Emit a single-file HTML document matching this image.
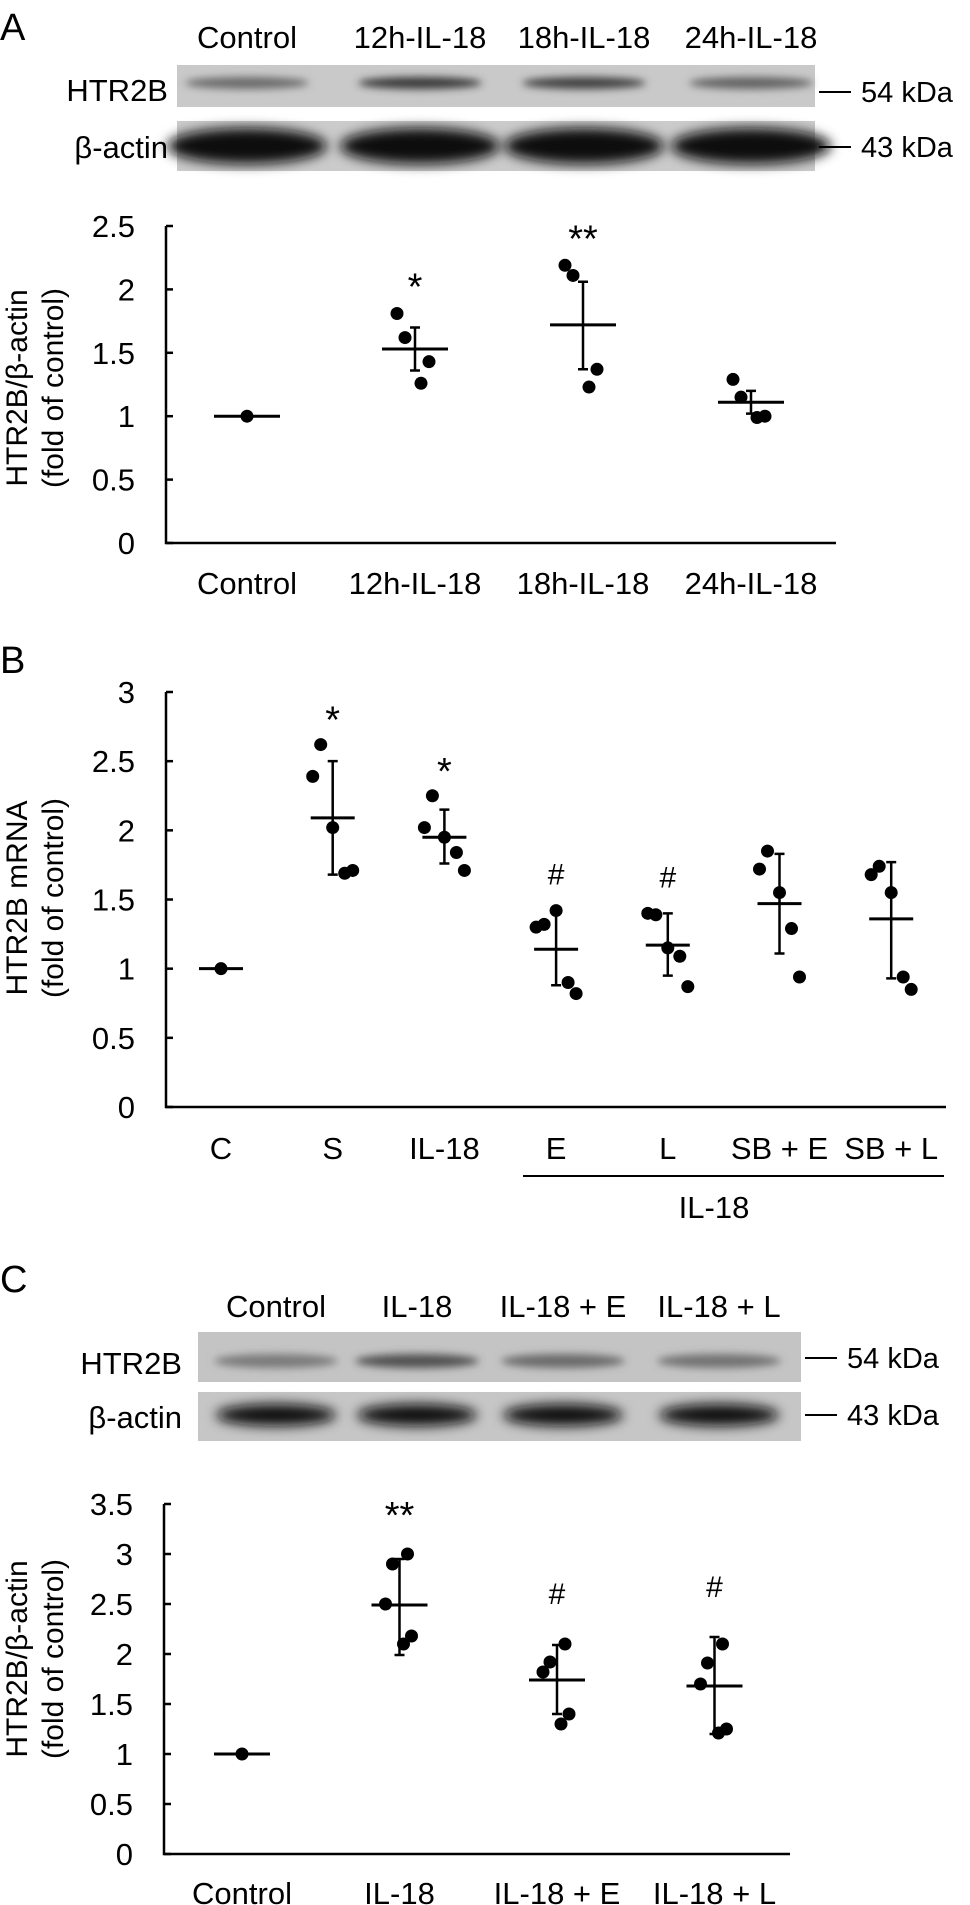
<!DOCTYPE html>
<html><head><meta charset="utf-8"><style>
html,body{margin:0;padding:0;background:#fff;}
svg{display:block;font-family:"Liberation Sans",Arial,sans-serif;}
</style></head><body>
<svg id="fig" width="970" height="1905" viewBox="0 0 970 1905" xmlns="http://www.w3.org/2000/svg">
<defs>
<filter id="blur4" x="-20%" y="-100%" width="140%" height="300%"><feGaussianBlur stdDeviation="4"/></filter>
<filter id="blur6" x="-20%" y="-100%" width="140%" height="300%"><feGaussianBlur stdDeviation="6"/></filter>
</defs>
<text x="0" y="40" font-size="38">A</text>
<text x="0" y="673" font-size="38">B</text>
<text x="0" y="1292" font-size="38">C</text>
<g id="blots"></g>
<g id="charts"></g>
</svg>
<script>
// ---------- Panel A data ----------
const catsA = ["Control","12h-IL-18","18h-IL-18","24h-IL-18"];
const ptsA = [[1],[1.81,1.62,1.43,1.26],[2.19,2.11,1.37,1.23],[1.29,1.15,1.0,0.99]];
const meanA = [1,1.53,1.72,1.11];
const errLoA = [1,1.36,1.37,1.02];
const errHiA = [1,1.70,2.06,1.20];
const marksA = ["","*","**",""];
const ticksA = ["0","0.5","1","1.5","2","2.5"];
// ---------- Panel B data ----------
const catsB = ["C","S","IL-18","E","L","SB + E","SB + L"];
const ptsB = [[1],[2.62,2.39,2.02,1.69,1.71],[2.25,2.02,1.95,1.84,1.71],[1.32,1.30,1.42,0.90,0.82],[1.39,1.40,1.15,1.09,0.87],[1.85,1.72,1.55,1.29,0.94],[1.74,1.68,1.55,0.94,0.85]];
const meanB = [1,2.09,1.95,1.14,1.17,1.47,1.36];
const errLoB = [1,1.68,1.76,0.88,0.95,1.11,0.93];
const errHiB = [1,2.50,2.15,1.42,1.40,1.83,1.77];
const marksB = ["","*","*","#","#","",""];
const ticksB = ["0","0.5","1","1.5","2","2.5","3"];
// ---------- Panel C data ----------
const catsC = ["Control","IL-18","IL-18 + E","IL-18 + L"];
const ptsC = [[1],[3.0,2.90,2.50,2.18,2.10],[2.10,1.92,1.82,1.40,1.30],[2.10,1.91,1.70,1.25,1.21]];
const meanC = [1,2.49,1.74,1.68];
const errLoC = [1,1.99,1.40,1.20];
const errHiC = [1,2.95,2.09,2.17];
const marksC = ["","**","#","#"];
const ticksC = ["0","0.5","1","1.5","2","2.5","3","3.5"];
// ---------- Blot band intensities (0 light - 1 dark) ----------
const bandsA_htr = [0.45,0.75,0.7,0.5];
const bandsA_act = [1,1,1,1];
const bandsC_htr = [0.35,0.6,0.45,0.4];
const bandsC_act = [1,1,1,1];

const NS="http://www.w3.org/2000/svg";
function mk(tag,attrs,parent,txt){const e=document.createElementNS(NS,tag);for(const k in attrs)e.setAttribute(k,attrs[k]);if(txt!==undefined)e.textContent=txt;parent.appendChild(e);return e;}
const blots=document.getElementById('blots');
const charts=document.getElementById('charts');

function blot(cfg){
  const g=mk('g',{},blots);
  
  
  cfg.laneLabels.forEach((l,i)=>{
    const t=mk('text',{x:cfg.laneX[i],y:cfg.laneY,'font-size':cfg.fs,'text-anchor':'middle'},g,l);
    
    
  });
  cfg.strips.forEach((s,si)=>{
    const r=mk('rect',{x:cfg.x0,y:s.y0,width:cfg.x1-cfg.x0,height:s.y1-s.y0,fill:s.bg},g);
    
    
    s.vals.forEach((v,i)=>{
      const shade=Math.round(180-v*165);
      const e=mk('ellipse',{cx:cfg.laneX[i],cy:s.cy,rx:s.rx,ry:s.ry,fill:`rgb(${shade},${shade},${shade})`,filter:s.thick?'url(#blur6)':'url(#blur4)'},g);
      
      
    });
    const lt=mk('text',{x:cfg.labelX,y:s.ty,'font-size':cfg.fs,'text-anchor':'end'},g,s.label);
    
    
    const ln=mk('line',{x1:cfg.x1+4,x2:cfg.x1+36,y1:s.my,y2:s.my,stroke:'#000','stroke-width':2},g);
    
    
    const kt=mk('text',{x:cfg.x1+46,y:s.my+10,'font-size':cfg.fs-2},g,s.kda);
    
    
  });
}
blot({name:'blot-a',x0:177,x1:815,laneX:[247,420,584,751],laneY:48,fs:31,labelX:168,
  laneLabels:catsA,
  strips:[{label:'HTR2B',y0:65,y1:107,cy:83,rx:62,ry:6,bg:'#c9c9c9',vals:bandsA_htr,ty:101,my:92,kda:'54 kDa'},
          {label:'β-actin',y0:121,y1:171,cy:146,rx:80,ry:18,thick:true,bg:'#cbcbcb',vals:bandsA_act,ty:158,my:147,kda:'43 kDa'}]});
blot({name:'blot-c',x0:198,x1:801,laneX:[276,417,563,719],laneY:1317,fs:31,labelX:182,
  laneLabels:catsC,
  strips:[{label:'HTR2B',y0:1332,y1:1382,cy:1361,rx:62,ry:7,bg:'#c4c4c4',vals:bandsC_htr,ty:1374,my:1358,kda:'54 kDa'},
          {label:'β-actin',y0:1392,y1:1441,cy:1415,rx:60,ry:11,thick:true,bg:'#c6c6c6',vals:bandsC_act,ty:1428,my:1415,kda:'43 kDa'}]});

function chart(cfg){
  const g=mk('g',{},charts);
  
  
  const ymax=parseFloat(cfg.ticks[cfg.ticks.length-1]);
  const Y=v=>cfg.y0-(v/ymax)*(cfg.y0-cfg.yTop);
  const X=i=>cfg.xc0+i*cfg.dx;
  const ax=mk('path',{d:`M${cfg.axX},${Y(ymax)} V${cfg.y0} H${cfg.axEnd}`,fill:'none',stroke:'#000','stroke-width':2.5},g);
  
  
  cfg.ticks.forEach(t=>{
    const v=parseFloat(t);
    const tk=mk('line',{x1:cfg.axX,x2:cfg.axX+7,y1:Y(v),y2:Y(v),stroke:'#000','stroke-width':2.5},g);
    
    
    const tl=mk('text',{x:cfg.axX-31,y:Y(v)+11,'font-size':31,'text-anchor':'end'},g,t);
    
    
  });
  cfg.cats.forEach((c,i)=>{
    const xl=mk('text',{x:X(i),y:cfg.xlY,'font-size':31,'text-anchor':'middle'},g,c);
    
    
    const cx=X(i);
    if(cfg.hi[i]!==cfg.lo[i]){
      const eb=mk('path',{d:`M${cx},${Y(cfg.hi[i])} V${Y(cfg.lo[i])} M${cx-5},${Y(cfg.hi[i])} H${cx+5} M${cx-5},${Y(cfg.lo[i])} H${cx+5}`,stroke:'#000','stroke-width':2.5,fill:'none'},g);
      
      
    }
    const ml=mk('line',{x1:cx-cfg.mw,x2:cx+cfg.mw,y1:Y(cfg.mean[i]),y2:Y(cfg.mean[i]),stroke:'#000','stroke-width':3},g);
    
    
    const n=cfg.pts[i].length;
    cfg.pts[i].forEach((p,j)=>{
      const off=n===1?0:cfg.jit[j];
      const d=mk('circle',{cx:cx+off,cy:Y(p),r:6.5,fill:'#000'},g);
      
      
    });
    if(cfg.marks[i]){
      const top=Math.max(cfg.hi[i],...cfg.pts[i]);
      const isHash=cfg.marks[i]==='#';
      const mt=mk('text',{x:cx,y:Y(top)-cfg.markGap+(isHash?0:14),'font-size':isHash?30:38,'text-anchor':'middle'},g,cfg.marks[i]);
      
      
    }
  });
  const tt=mk('text',{transform:`translate(27,${cfg.titleY}) rotate(-90)`,'font-size':30,'text-anchor':'middle'},g,cfg.title1);
  
  
  const tt2=mk('text',{transform:`translate(63,${cfg.titleY}) rotate(-90)`,'font-size':30,'text-anchor':'middle'},g,'(fold of control)');
  
  
  return {X,Y,g};
}
chart({name:'chart-a',cats:catsA,pts:ptsA,mean:meanA,lo:errLoA,hi:errHiA,marks:marksA,ticks:ticksA,
  y0:543,yTop:226,axX:166,axEnd:836,xc0:247,dx:168,xlY:594,mw:33,jit:[-18,-10,14,6],markGap:28,
  title1:'HTR2B/β-actin',titleY:388});
const b=chart({name:'chart-b',cats:catsB,pts:ptsB,mean:meanB,lo:errLoB,hi:errHiB,marks:marksB,ticks:ticksB,
  y0:1107,yTop:692,axX:166,axEnd:946,xc0:221,dx:111.7,xlY:1159,mw:22,jit:[-12,-20,0,12,20],markGap:26,
  title1:'HTR2B mRNA',titleY:898});
// IL-18 group bracket in B
const ul=mk('line',{x1:523,x2:944,y1:1176,y2:1176,stroke:'#000','stroke-width':2},b.g);


const ult=mk('text',{x:714,y:1218,'font-size':31,'text-anchor':'middle'},b.g,'IL-18');


chart({name:'chart-c',cats:catsC,pts:ptsC,mean:meanC,lo:errLoC,hi:errHiC,marks:marksC,ticks:ticksC,
  y0:1854,yTop:1504,axX:164,axEnd:790,xc0:242,dx:157.5,xlY:1904,mw:28,jit:[8,-7,-14,12,4],markGap:40,
  title1:'HTR2B/β-actin',titleY:1659});
</script>
</body></html>
